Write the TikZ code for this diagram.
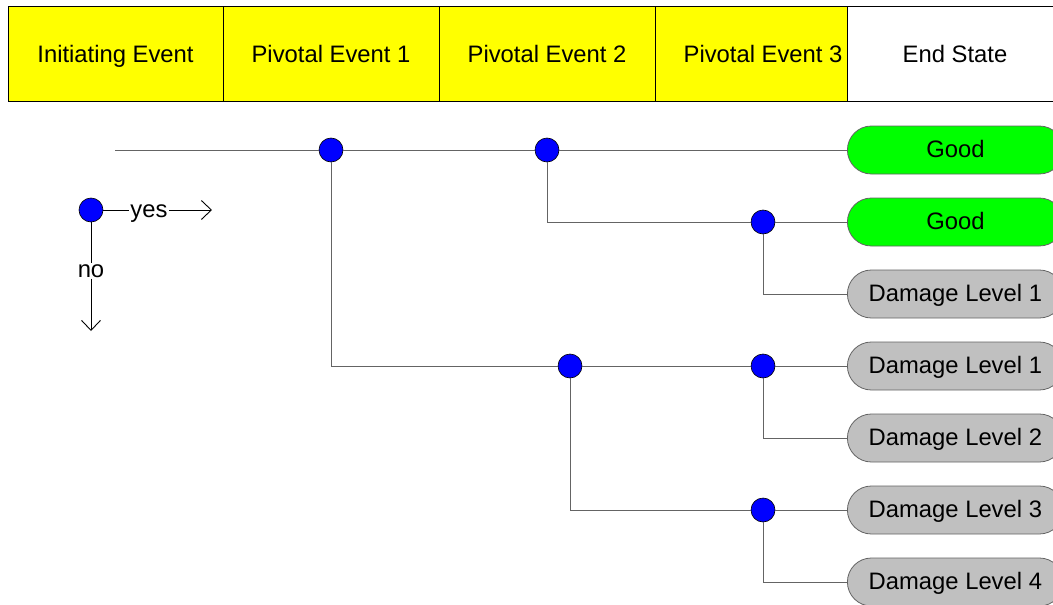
\documentclass[tikz,border=0pt]{standalone}
\usepackage{fontspec}
\setmainfont{Liberation Sans}
\usetikzlibrary{arrows.meta}
\definecolor{hdryellow}{RGB}{255,255,0}
\definecolor{goodgreen}{RGB}{0,255,0}
\definecolor{dmggray}{RGB}{192,192,192}
\definecolor{linegray}{RGB}{100,100,100}
\tikzset{
  hdr/.style={draw=black, line width=0.8pt, minimum width=216pt, minimum height=95pt, anchor=north west, inner sep=0pt},
  hdrtext/.style={inner sep=0pt, anchor=base, font=\fontsize{23.8}{28}\selectfont},
  junction/.style={circle, draw=black, fill=blue, line width=0.6pt, minimum size=24pt, inner sep=0pt},
  endst/.style={draw=linegray, line width=0.8pt, rounded corners=24pt, minimum width=216pt, minimum height=48pt, anchor=west, inner sep=0pt, text height=15pt, text depth=0pt, font=\fontsize{23.8}{28}\selectfont},
  good/.style={endst, fill=goodgreen},
  dmg/.style={endst, fill=dmggray},
  conn/.style={draw=linegray, line width=0.9pt},
  lgtext/.style={inner sep=1.5pt, text height=12pt, text depth=0pt, font=\fontsize{23.8}{28}\selectfont},
  lgarrow/.style={draw=black, line width=0.9pt, -{Straight Barb[length=10pt,width=19pt,line width=0.9pt]}}
}
\begin{document}
\begin{tikzpicture}[x=1pt,y=-1pt]
\useasboundingbox (0,0) rectangle (1053,605);
\begin{scope}
\clip (0,0) rectangle (1053,605);
% header
\node[hdr, fill=hdryellow] (h1) at (8,6) {};
\node[hdr, fill=hdryellow] (h2) at (223,6) {};
\node[hdr, fill=hdryellow] (h3) at (439,6) {};
\node[hdr, fill=hdryellow, minimum width=192pt] (h4) at (655,6) {};
\node[hdr, fill=white] (h5) at (847,6) {};
\node[hdrtext] (t1) at (115.5,62) {Initiating Event};
\node[hdrtext] (t2) at (331,62) {Pivotal Event 1};
\node[hdrtext] (t3) at (547,62) {Pivotal Event 2};
\node[hdrtext] (t4) at (763,62) {Pivotal Event 3};
\node[hdrtext] (t5) at (955,62) {End State};
% end states
\node[good] (e1) at (847,150) {Good};
\node[good] (e2) at (847,222) {Good};
\node[dmg] (e3) at (847,294) {Damage Level 1};
\node[dmg] (e4) at (847,366) {Damage Level 1};
\node[dmg] (e5) at (847,438) {Damage Level 2};
\node[dmg] (e6) at (847,510) {Damage Level 3};
\node[dmg] (e7) at (847,582) {Damage Level 4};
% junctions
\coordinate (start) at (115,150);
\node[junction] (c1) at (331,150) {};
\node[junction] (c2) at (547,150) {};
\node[junction] (c3) at (763,222) {};
\node[junction] (c4) at (570,366) {};
\node[junction] (c5) at (763,366) {};
\node[junction] (c6) at (763,510) {};
% connectors
\draw[conn] (start) -- (c1);
\draw[conn] (c1) -- (c2);
\draw[conn] (c2) -- (e1.west);
\draw[conn] (c1) |- (c4);
\draw[conn] (c2) |- (c3);
\draw[conn] (c3) -- (e2.west);
\draw[conn] (c3) |- (e3.west);
\draw[conn] (c4) -- (c5);
\draw[conn] (c4) |- (c6);
\draw[conn] (c5) -- (e4.west);
\draw[conn] (c5) |- (e5.west);
\draw[conn] (c6) -- (e6.west);
\draw[conn] (c6) |- (e7.west);
% legend
\node[junction] (lg) at (91,210) {};
\node[lgtext] (yes) at (149,211) {yes};
\node[lgtext] (no) at (91,271) {no};
\coordinate (yesend) at (212,210);
\coordinate (noend) at (91,331);
\draw[draw=black, line width=0.9pt] (lg) -- (yes.west |- lg);
\draw[lgarrow] (yes.east |- lg) -- (yesend);
\draw[draw=black, line width=0.9pt] (lg) -- (no);
\draw[lgarrow] (no) -- (noend);
\end{scope}
\end{tikzpicture}
\end{document}
